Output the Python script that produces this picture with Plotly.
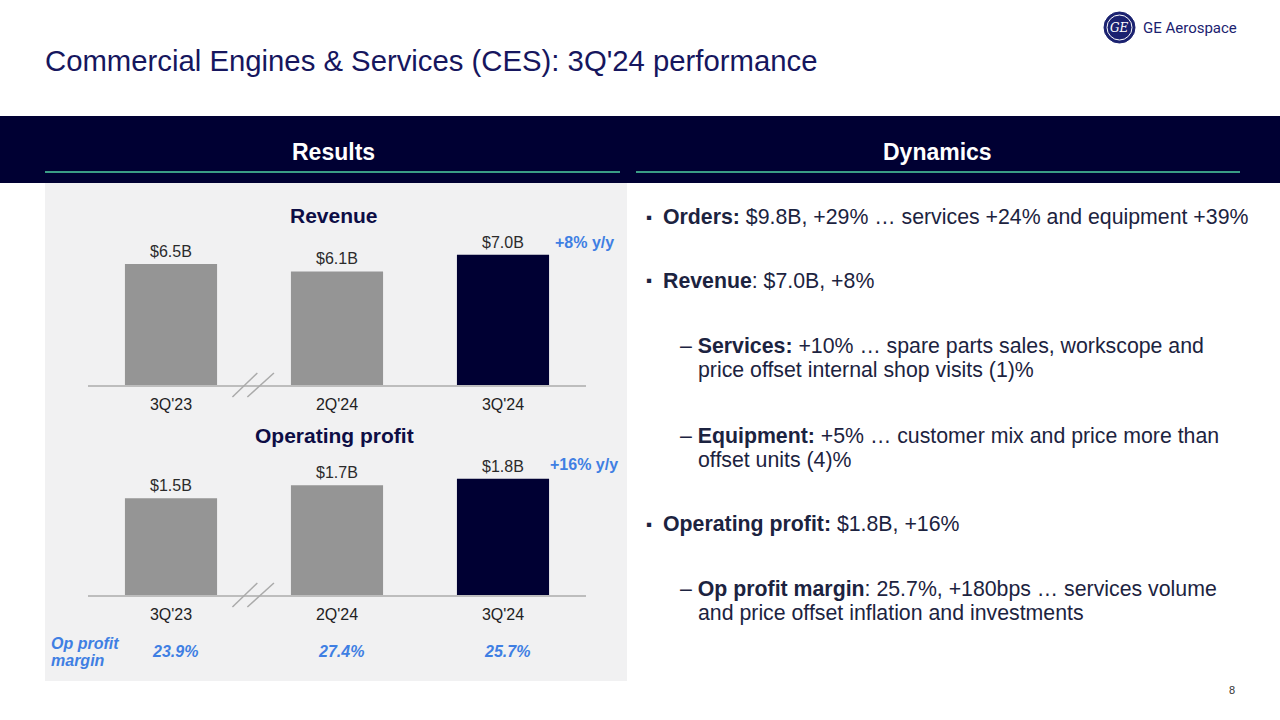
import plotly.graph_objects as go

W, H = 1280, 720

# ---------------- data ----------------
quarters = ["3Q'23", "2Q'24", "3Q'24"]
revenue = [6.5, 6.1, 7.0]
revenue_labels = ["$6.5B", "$6.1B", "$7.0B"]
op_profit = [1.5, 1.7, 1.8]
op_profit_labels = ["$1.5B", "$1.7B", "$1.8B"]
op_margin = ["23.9%", "27.4%", "25.7%"]
revenue_growth = "+8% y/y"
op_profit_growth = "+16% y/y"

GRAY = "#959595"
NAVY = "#000033"
BLUE = "#3f7fe3"
TXT = "#1c2340"
bar_colors = [GRAY, GRAY, NAVY]
FONT = "Arial, Liberation Sans, sans-serif"


def px(x):
    return x / W


def py(y):
    return 1 - y / H


fig = go.Figure()

fig.add_trace(go.Bar(x=quarters, y=revenue, marker=dict(color=bar_colors, line=dict(width=0)),
                     width=0.555, xaxis="x", yaxis="y", hoverinfo="skip"))
fig.add_trace(go.Bar(x=quarters, y=op_profit, marker=dict(color=bar_colors, line=dict(width=0)),
                     width=0.555, xaxis="x2", yaxis="y2", hoverinfo="skip"))

axis_common = dict(showgrid=False, zeroline=False, showline=True, linecolor="#bdbdbd", linewidth=2,
                   ticks="outside", ticklen=4, tickcolor="rgba(0,0,0,0)",
                   tickfont=dict(size=16, color="#222222", family=FONT), range=[-0.5, 2.5], fixedrange=True)
yaxis_common = dict(visible=False, showgrid=False, zeroline=False, fixedrange=True)

fig.update_layout(
    width=W, height=H,
    margin=dict(l=0, r=0, t=0, b=0),
    paper_bgcolor="white", plot_bgcolor="rgba(0,0,0,0)",
    showlegend=False,
    font=dict(family=FONT),
    xaxis=dict(domain=[px(88), px(586)], anchor="y", **axis_common),
    yaxis=dict(domain=[py(385), py(236)], range=[0, 8.0], anchor="x", **yaxis_common),
    xaxis2=dict(domain=[px(88), px(586)], anchor="y2", **axis_common),
    yaxis2=dict(domain=[py(595), py(453)], range=[0, 2.2], anchor="x2", **yaxis_common),
)

shapes = []
# header band
shapes.append(dict(type="rect", xref="paper", yref="paper", x0=0, x1=1, y0=py(183), y1=py(116),
                   fillcolor=NAVY, line=dict(width=0), layer="below"))
# green underline
shapes.append(dict(type="line", xref="paper", yref="paper", x0=px(45), x1=px(620), y0=py(172), y1=py(172),
                   line=dict(color="#3a9c86", width=2)))
shapes.append(dict(type="line", xref="paper", yref="paper", x0=px(636), x1=px(1240), y0=py(172), y1=py(172),
                   line=dict(color="#3a9c86", width=2)))
# gray panel
shapes.append(dict(type="rect", xref="paper", yref="paper", x0=px(45), x1=px(627), y0=py(681), y1=py(183),
                   fillcolor="#f1f1f2", line=dict(width=0), layer="below"))
# axis break marks
for xr, base in (("x", 385), ("x2", 595)):
    for x0, x1 in ((0.37, 0.52), (0.46, 0.62)):
        shapes.append(dict(type="line", xref=xr, yref="paper", x0=x0, x1=x1,
                           y0=py(base + 12), y1=py(base - 12),
                           line=dict(color="#aaaaaa", width=1.5)))
# logo circle
shapes.append(dict(type="circle", xref="paper", yref="paper", x0=px(1104), x1=px(1135), y0=py(43), y1=py(12),
                   fillcolor="#1b2270", line=dict(color="#1b2270", width=1)))
shapes.append(dict(type="circle", xref="paper", yref="paper", x0=px(1107), x1=px(1132), y0=py(40), y1=py(15),
                   fillcolor="rgba(0,0,0,0)", line=dict(color="white", width=1)))
fig.update_layout(shapes=shapes)

ann = []


def add(text, x, y, size, color=TXT, xanchor="left", yanchor="middle", **kw):
    ann.append(dict(text=text, x=px(x), y=py(y), xref="paper", yref="paper", showarrow=False,
                    xanchor=xanchor, yanchor=yanchor, font=dict(size=size, color=color, family=FONT), **kw))


# title
add("Commercial Engines & Services (CES): 3Q'24 performance", 43, 60, 29.3, color="#16165e")
# logo text
ann.append(dict(text="<i>GE</i>", x=px(1119.5), y=py(28), xref="paper", yref="paper", showarrow=False,
                font=dict(size=12, color="white", family="DejaVu Serif"), xanchor="center", yanchor="middle"))
ann.append(dict(text="GE Aerospace", x=px(1141), y=py(28), xref="paper", yref="paper", showarrow=False,
                font=dict(size=15, color="#1b2270", family="Roboto, Arial"),
                xanchor="left", yanchor="middle"))
# header labels
add("<b>Results</b>", 333, 152, 23, color="white", xanchor="center")
add("<b>Dynamics</b>", 937, 152, 23, color="white", xanchor="center")

# chart titles
add("<b>Revenue</b>", 334, 215, 21, color="#0d0d45", xanchor="center")
add("<b>Operating profit</b>", 334, 436, 21, color="#0d0d45", xanchor="center")

# value labels
for q, v, t in zip(quarters, revenue, revenue_labels):
    ann.append(dict(text=t, x=q, y=v, xref="x", yref="y", showarrow=False, yanchor="bottom", yshift=2,
                    font=dict(size=16, color="#2b2b2b", family=FONT)))
for q, v, t in zip(quarters, op_profit, op_profit_labels):
    ann.append(dict(text=t, x=q, y=v, xref="x2", yref="y2", showarrow=False, yanchor="bottom", yshift=2,
                    font=dict(size=16, color="#2b2b2b", family=FONT)))

add("<b>" + revenue_growth + "</b>", 584, 242, 16, color=BLUE, xanchor="center")
add("<b>" + op_profit_growth + "</b>", 584, 464, 16, color=BLUE, xanchor="center")

# op profit margin row
add("<b><i>Op profit</i></b>", 49, 643, 16, color=BLUE)
add("<b><i>margin</i></b>", 49, 660, 16, color=BLUE)
for q, m in zip(quarters, op_margin):
    ann.append(dict(text="<b><i>" + m + "</i></b>", x=q, y=py(651), xref="x2", yref="paper", showarrow=False,
                    xanchor="center", yanchor="middle", xshift=4,
                    font=dict(size=16, color=BLUE, family=FONT)))

# dynamics text
FS = 21.3
add("▪", 644, 217, 17)
add("<b>Orders:</b> $9.8B, +29% … services +24% and equipment +39%", 661, 217, FS)
add("▪", 644, 281, 17)
add("<b>Revenue</b>: $7.0B, +8%", 661, 281, FS)
add("– <b>Services:</b> +10% … spare parts sales, workscope and", 678, 346, FS)
add("price offset internal shop visits (1)%", 696, 370, FS)
add("– <b>Equipment:</b> +5% … customer mix and price more than", 678, 436, FS)
add("offset units (4)%", 696, 460, FS)
add("▪", 644, 524, 17)
add("<b>Operating profit:</b> $1.8B, +16%", 661, 524, FS)
add("– <b>Op profit margin</b>: 25.7%, +180bps … services volume", 678, 589, FS)
add("and price offset inflation and investments", 696, 613, FS)

# page number
add("8", 1232, 690, 11, color="#333333", xanchor="center")

fig.update_layout(annotations=ann)
fig.write_html("out.html", config={"displayModeBar": False},
               post_script="document.body.style.margin='0px';document.body.style.overflow='hidden';")
